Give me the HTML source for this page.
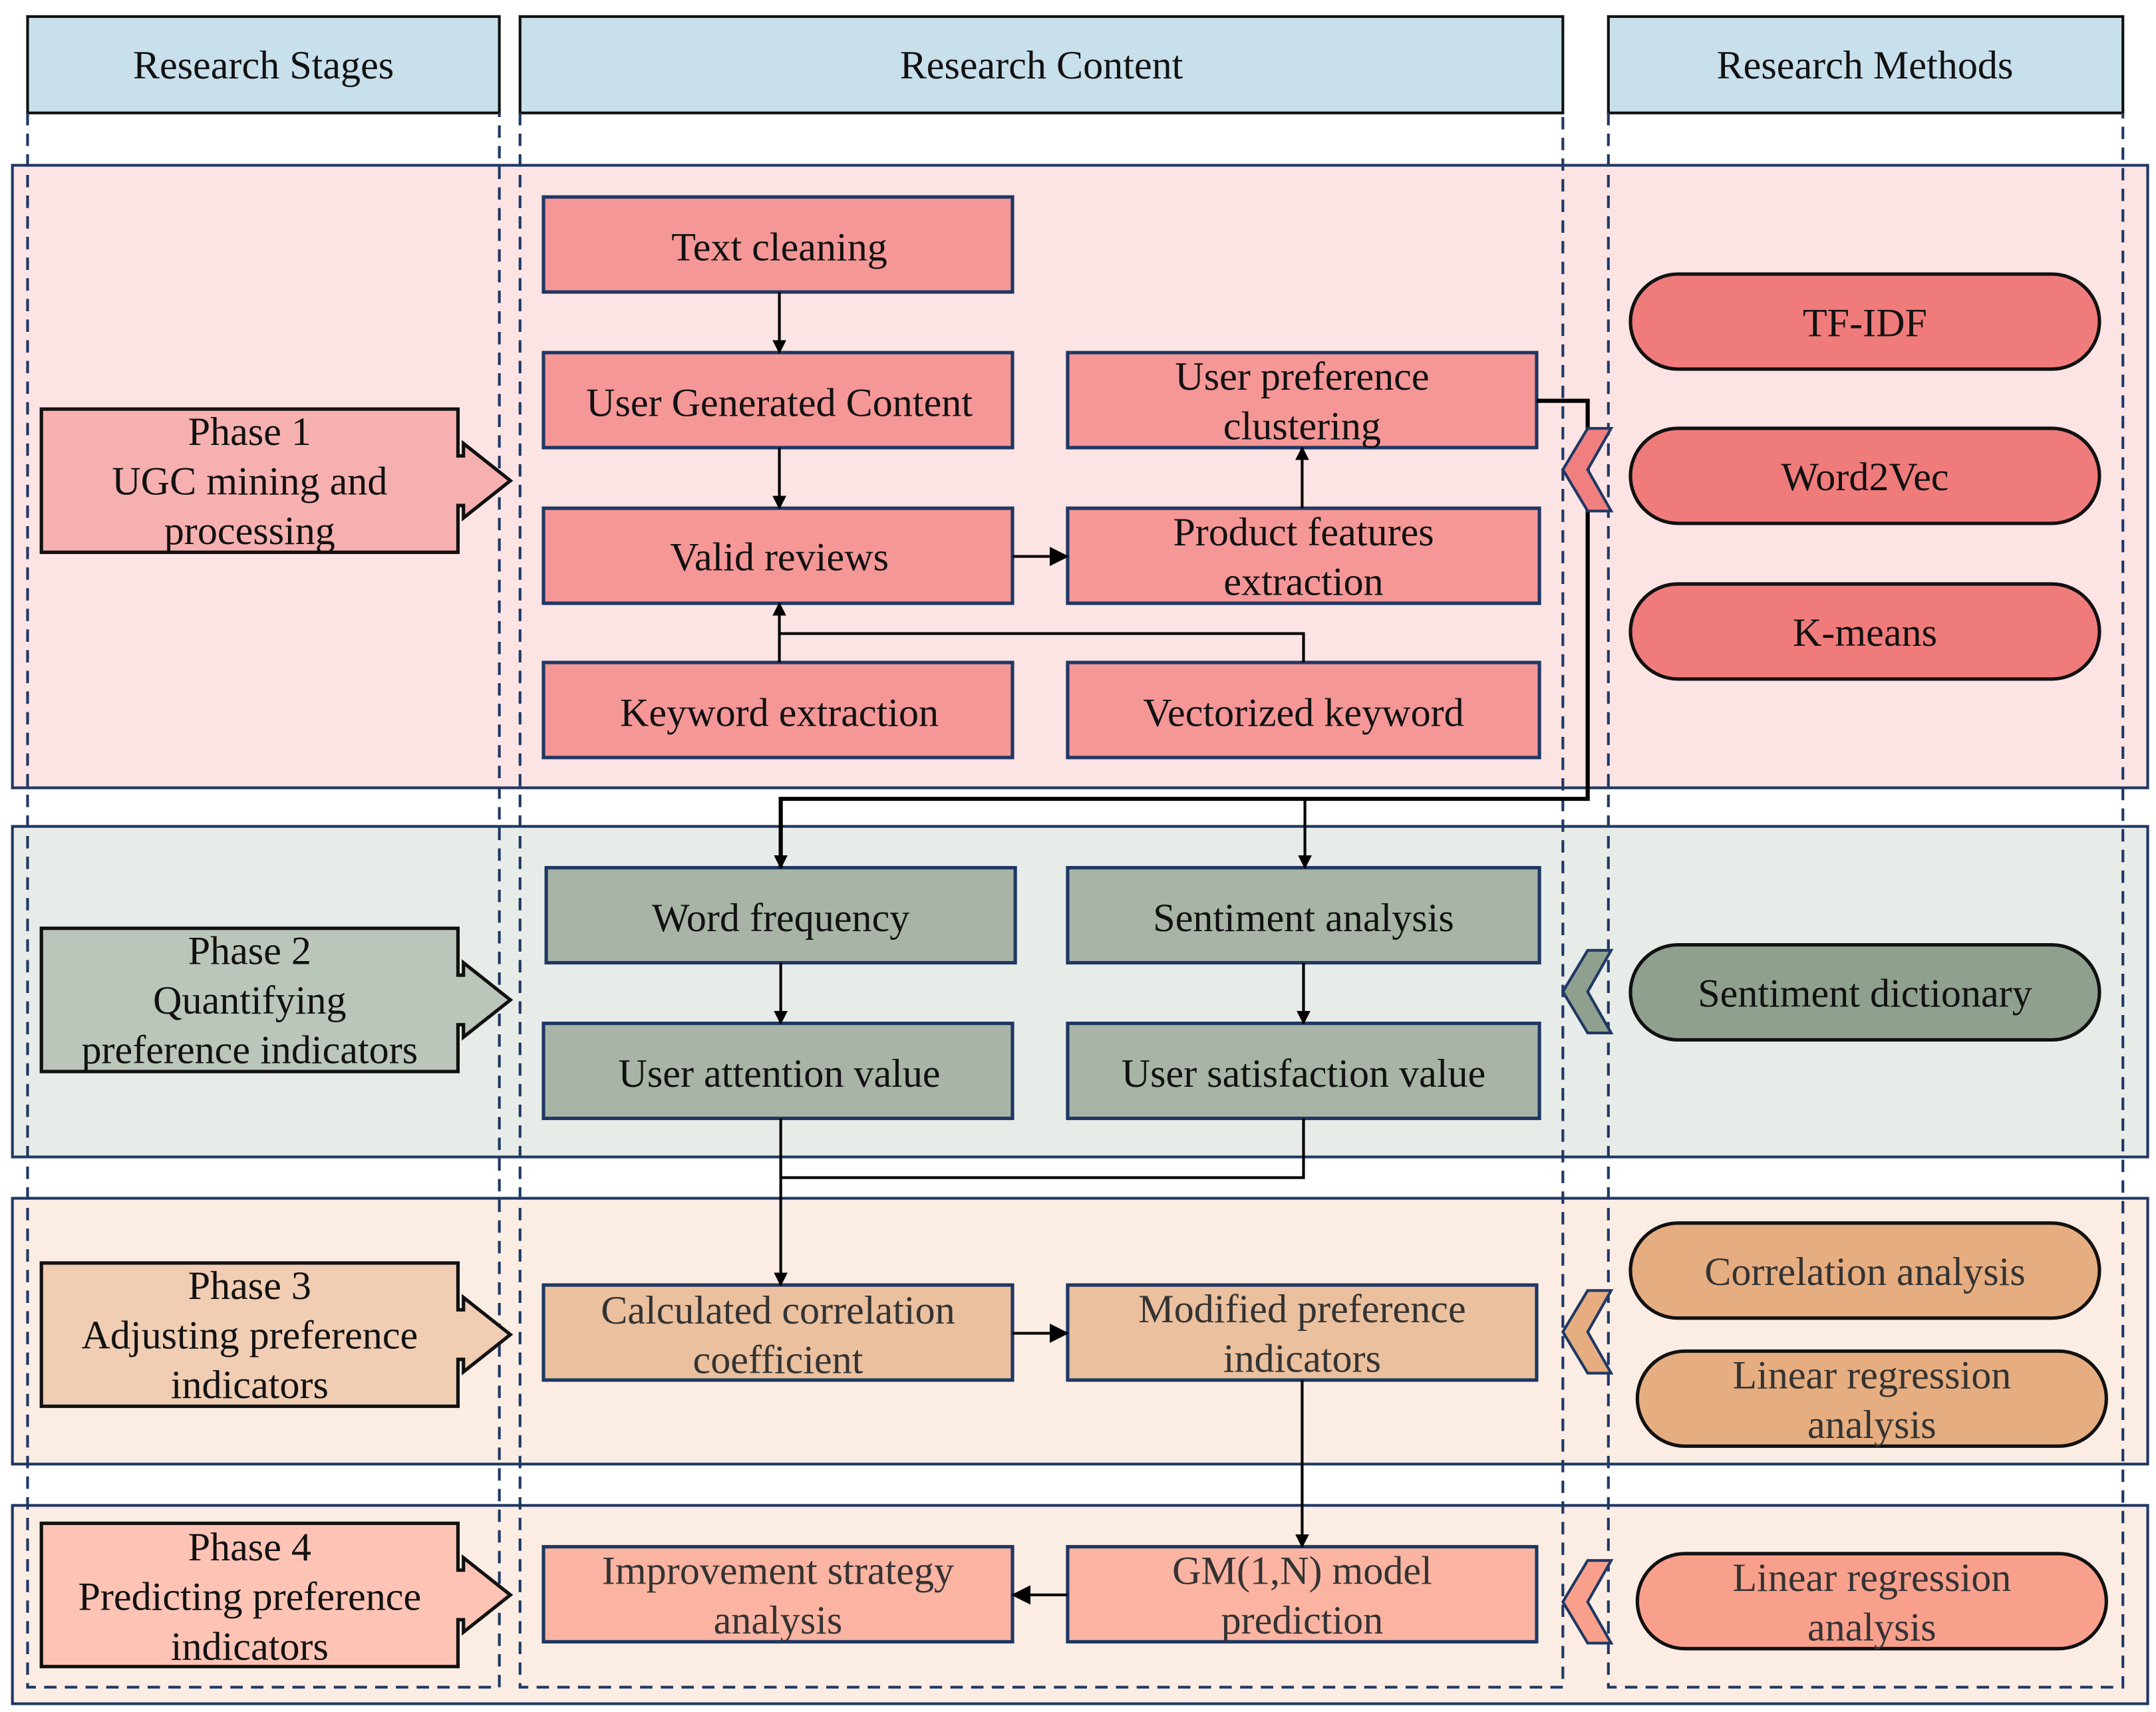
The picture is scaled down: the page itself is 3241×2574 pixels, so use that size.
<!DOCTYPE html>
<html><head><meta charset="utf-8"><style>
html,body{margin:0;padding:0;background:#fff}
svg{display:block}
text{font-family:"Liberation Serif",serif;fill:#111;text-anchor:middle}
</style></head><body>
<svg width="3241" height="2574" viewBox="0 0 1563 1243" preserveAspectRatio="none" xmlns="http://www.w3.org/2000/svg">
<defs>
<marker id="ah" markerWidth="10" markerHeight="10" refX="9" refY="5" orient="auto" markerUnits="userSpaceOnUse">
<path d="M0,0 L10,5 L0,10 z" fill="#000"/></marker>
<marker id="ah2" markerWidth="14" markerHeight="14" refX="13" refY="7" orient="auto" markerUnits="userSpaceOnUse">
<path d="M0,0 L14,7 L0,14 z" fill="#000"/></marker>
</defs>
<rect x="9" y="120" width="1548" height="452" fill="#fde4e4" stroke="#1f3864" stroke-width="2"/>
<rect x="9" y="600" width="1548" height="240" fill="#e8ece8" stroke="#1f3864" stroke-width="2"/>
<rect x="9" y="870" width="1548" height="193" fill="#fbede4" stroke="#1f3864" stroke-width="2"/>
<rect x="9" y="1093" width="1548" height="144" fill="#fbede4" stroke="#1f3864" stroke-width="2"/>
<g stroke="#111" stroke-width="2" fill="#c8dfec">
<rect x="20" y="12" width="342" height="70"/>
<rect x="377" y="12" width="756" height="70"/>
<rect x="1166" y="12" width="373" height="70"/>
</g>
<g font-size="29">
<text x="191" y="57">Research Stages</text>
<text x="755" y="57">Research Content</text>
<text x="1352" y="57">Research Methods</text>
</g>
<g fill="none" stroke="#1f3864" stroke-width="2" stroke-dasharray="9,6">
<path d="M20,82 V1225 H362 V82"/>
<path d="M377,82 V1225 H1133 V82"/>
<path d="M1166,82 V1225 H1539 V82"/>
</g>
<g stroke="#111" stroke-width="2.5">
<polygon fill="#f7b0b0" points="30,297 332,297 332,331 336,331 336,322 370,349 336,376 336,367 332,367 332,401 30,401"/>
<polygon fill="#bbc6bb" points="30,674 332,674 332,708 336,708 336,699 370,726 336,753 336,744 332,744 332,778 30,778"/>
<polygon fill="#f0cdb3" points="30,917 332,917 332,951 336,951 336,942 370,969 336,996 336,987 332,987 332,1021 30,1021"/>
<polygon fill="#fdc4b6" points="30,1106 332,1106 332,1140 336,1140 336,1131 370,1158 336,1185 336,1176 332,1176 332,1210 30,1210"/>
</g>
<g font-size="29">
<text x="181" y="323">Phase 1</text><text x="181" y="359">UGC mining and</text><text x="181" y="395">processing</text>
<text x="181" y="700">Phase 2</text><text x="181" y="736">Quantifying</text><text x="181" y="772">preference indicators</text>
<text x="181" y="943">Phase 3</text><text x="181" y="979">Adjusting preference</text><text x="181" y="1015">indicators</text>
<text x="181" y="1133">Phase 4</text><text x="181" y="1169">Predicting preference</text><text x="181" y="1205">indicators</text>
</g>
<g stroke="#1f3864" stroke-width="2.5">
<g fill="#f59797">
<rect x="394" y="143" width="340" height="69"/>
<rect x="394" y="256" width="340" height="69"/>
<rect x="774" y="256" width="340" height="69"/>
<rect x="394" y="369" width="340" height="69"/>
<rect x="774" y="369" width="342" height="69"/>
<rect x="394" y="481" width="340" height="69"/>
<rect x="774" y="481" width="342" height="69"/>
</g>
<g fill="#a8b5a6">
<rect x="396" y="630" width="340" height="69"/>
<rect x="774" y="630" width="342" height="69"/>
<rect x="394" y="743" width="340" height="69"/>
<rect x="774" y="743" width="342" height="69"/>
</g>
<g fill="#ebc09e">
<rect x="394" y="933" width="340" height="69"/>
<rect x="774" y="933" width="340" height="69"/>
</g>
<g fill="#fbb4a2">
<rect x="394" y="1123" width="340" height="69"/>
<rect x="774" y="1123" width="340" height="69"/>
</g>
</g>
<g font-size="29">
<text x="565" y="189">Text cleaning</text>
<text x="565" y="302">User Generated Content</text>
<text x="944" y="283">User preference</text><text x="944" y="319">clustering</text>
<text x="565" y="414">Valid reviews</text>
<text x="945" y="396">Product features</text><text x="945" y="432">extraction</text>
<text x="565" y="527">Keyword extraction</text>
<text x="945" y="527">Vectorized keyword</text>
<text x="566" y="676">Word frequency</text>
<text x="945" y="676">Sentiment analysis</text>
<text x="565" y="789">User attention value</text>
<text x="945" y="789">User satisfaction value</text>
</g>
<g font-size="29">
<text x="564" y="961" style="fill:#333">Calculated correlation</text><text x="564" y="997" style="fill:#333">coefficient</text>
<text x="944" y="960" style="fill:#333">Modified preference</text><text x="944" y="996" style="fill:#333">indicators</text>
<text x="564" y="1150" style="fill:#333">Improvement strategy</text><text x="564" y="1186" style="fill:#333">analysis</text>
<text x="944" y="1150" style="fill:#333">GM(1,N) model</text><text x="944" y="1186" style="fill:#333">prediction</text>
</g>
<g fill="none" stroke="#000" stroke-width="2">
<path d="M565,212 V256" marker-end="url(#ah)"/>
<path d="M565,325 V369" marker-end="url(#ah)"/>
<path d="M734,404 H774" marker-end="url(#ah2)"/>
<path d="M944,369 V325" marker-end="url(#ah)"/>
<path d="M565,481 V438" marker-end="url(#ah)"/>
<path d="M945,481 V460 H565"/>
<path d="M1114,291 H1151 V580 H566 V630" stroke-width="3" marker-end="url(#ah)"/>
<path d="M946,580 V630" marker-end="url(#ah)"/>
<path d="M566,699 V743" marker-end="url(#ah)"/>
<path d="M945,699 V743" marker-end="url(#ah)"/>
<path d="M566,812 V933" marker-end="url(#ah)"/>
<path d="M945,812 V855 H566"/>
<path d="M734,968 H774" marker-end="url(#ah2)"/>
<path d="M944,1002 V1123" marker-end="url(#ah)"/>
<path d="M774,1158 H734" marker-end="url(#ah2)"/>
</g>
<g stroke="#1f3864" stroke-width="2">
<polygon fill="#f08080" points="1168,311 1151,341 1168,371 1151,371 1133,341 1151,311"/>
<polygon fill="#8fa08e" points="1168,690 1151,720 1168,750 1151,750 1133,720 1151,690"/>
<polygon fill="#e6ad80" points="1168,937 1151,967 1168,997 1151,997 1133,967 1151,937"/>
<polygon fill="#f9a08d" points="1168,1133 1151,1163 1168,1193 1151,1193 1133,1163 1151,1133"/>
</g>
<g stroke="#111" stroke-width="2.5">
<rect x="1182" y="199" width="340" height="69" rx="34.5" fill="#f07b7b"/>
<rect x="1182" y="311" width="340" height="69" rx="34.5" fill="#f07b7b"/>
<rect x="1182" y="424" width="340" height="69" rx="34.5" fill="#f07b7b"/>
<rect x="1182" y="686" width="340" height="69" rx="34.5" fill="#8fa08e"/>
<rect x="1182" y="888" width="340" height="69" rx="34.5" fill="#e6ad80"/>
<rect x="1187" y="981" width="340" height="69" rx="34.5" fill="#e6ad80"/>
<rect x="1187" y="1128" width="340" height="69" rx="34.5" fill="#f9a08d"/>
</g>
<g font-size="29">
<text x="1352" y="244">TF-IDF</text>
<text x="1352" y="356">Word2Vec</text>
<text x="1352" y="469">K-means</text>
<text x="1352" y="731">Sentiment dictionary</text>
</g>
<g font-size="29">
<text x="1352" y="933" style="fill:#333">Correlation analysis</text>
<text x="1357" y="1008" style="fill:#333">Linear regression</text><text x="1357" y="1044" style="fill:#333">analysis</text>
<text x="1357" y="1155" style="fill:#333">Linear regression</text><text x="1357" y="1191" style="fill:#333">analysis</text>
</g>
</svg>
</body></html>
